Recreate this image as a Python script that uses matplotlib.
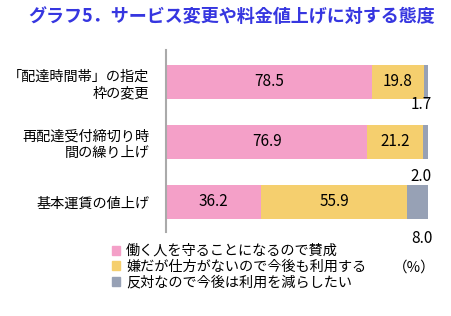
import matplotlib
matplotlib.use("Agg")
import matplotlib.pyplot as plt
from matplotlib.patches import Patch

plt.rcParams['font.family'] = ['Noto Sans CJK JP', 'DejaVu Sans']

# -- data --
categories = ["「配達時間帯」の指定\n枠の変更", "再配達受付締切り時\n間の繰り上げ", "基本運賃の値上げ"]
agree = [78.5, 76.9, 36.2]
reluctant = [19.8, 21.2, 55.9]
oppose = [1.7, 2.0, 8.0]
series_names = ["働く人を守ることになるので賛成",
                "嫌だが仕方がないので今後も利用する",
                "反対なので今後は利用を減らしたい"]
colors = ["#F4A0C8", "#F5CF6E", "#97A1B5"]

# offsets (in bar spacing units) for the small outside labels
small_dy = [0.37, 0.57, 0.6]

fig = plt.figure(figsize=(4.52, 3.16), dpi=100)
ax = fig.add_axes([166 / 452, 1 - 232 / 316, 262 / 452, 182 / 316])

ypos = list(range(len(categories)))
h = 0.57
ax.barh(ypos, agree, height=h, color=colors[0])
ax.barh(ypos, reluctant, left=agree, height=h, color=colors[1])
left3 = [a + b for a, b in zip(agree, reluctant)]
ax.barh(ypos, oppose, left=left3, height=h, color=colors[2])

for i in ypos:
    ax.text(agree[i] / 2, i, f"{agree[i]:.1f}", ha="center", va="center", fontsize=11)
    ax.text(agree[i] + reluctant[i] / 2, i, f"{reluctant[i]:.1f}",
            ha="center", va="center", fontsize=11)
    ax.text(97.5, i + small_dy[i], f"{oppose[i]:.1f}", ha="center", va="center", fontsize=11)

ax.set_xlim(0, 100)
ax.set_ylim(2.5, -0.533)
ax.set_xticks([])
ax.set_yticks(ypos)
ax.set_yticklabels(categories, fontsize=10.2, linespacing=1.25)
ax.tick_params(axis="y", length=0, pad=12)
for s in ["top", "right", "bottom"]:
    ax.spines[s].set_visible(False)
ax.spines["left"].set_color("#AAAAAA")
ax.spines["left"].set_linewidth(1.5)

fig.text(232 / 452, 1 - 16 / 316, "グラフ5．サービス変更や料金値上げに対する態度",
         ha="center", va="center", fontsize=13, fontweight="bold", color="#3636E0")

handles = [Patch(color=c) for c in colors]
fig.legend(handles, series_names, loc="upper left",
           bbox_to_anchor=(112 / 452, 1 - 244 / 316), frameon=False,
           fontsize=10.2, handlelength=0.6, handleheight=0.6,
           handletextpad=0.4, labelspacing=0.12, borderpad=0, borderaxespad=0)

fig.text(414 / 452, 1 - 268 / 316, "（%）", ha="center", va="center", fontsize=10.5)

fig.savefig("out.png", dpi=100)
